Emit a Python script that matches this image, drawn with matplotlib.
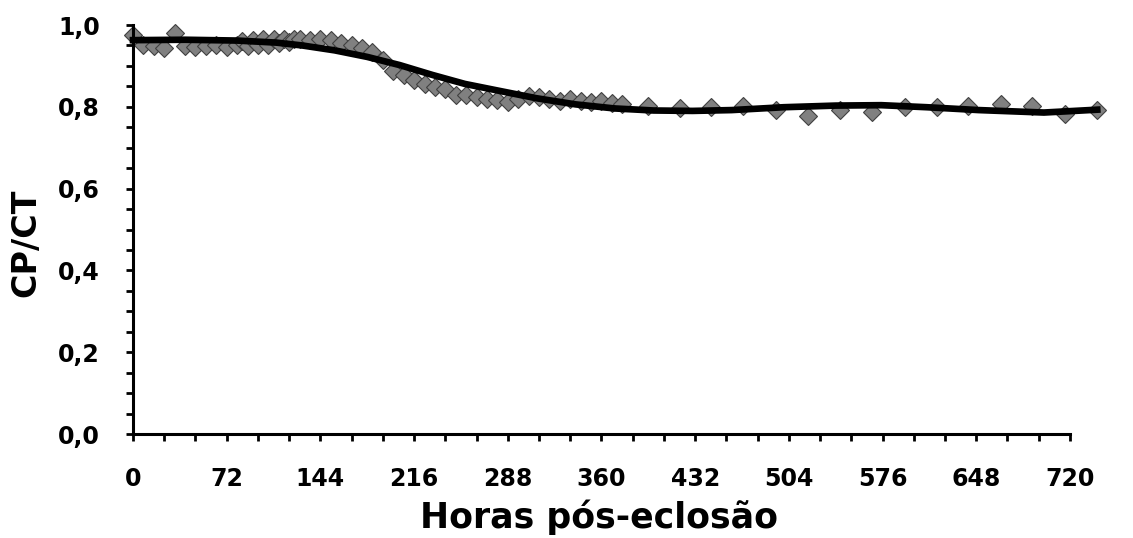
import matplotlib
matplotlib.use("Agg")
import matplotlib.pyplot as plt
from matplotlib.ticker import MultipleLocator, FuncFormatter

# observed CP/CT ratio (hours after hatching)
hours = [0, 8, 16, 24, 32, 40, 48, 56, 64, 72, 80, 84, 88, 92, 96, 100, 104,
         108, 112, 116, 120, 124, 128, 136, 144, 152, 160, 168, 176, 184, 192,
         200, 208, 216, 224, 232, 240, 248, 256, 264, 272, 280, 288, 296, 304,
         312, 320, 328, 336, 344, 352, 360, 368, 376,
         396, 420, 444, 469, 494, 519, 543, 568, 593, 618, 642, 667, 691, 716, 741]
ratio = [0.975, 0.950, 0.948, 0.945, 0.980, 0.948, 0.947, 0.948, 0.950, 0.947,
         0.950, 0.962, 0.948, 0.964, 0.950, 0.965, 0.952, 0.966, 0.955, 0.967,
         0.958, 0.967, 0.967, 0.963, 0.967, 0.963, 0.957, 0.951, 0.945, 0.935,
         0.915, 0.887, 0.877, 0.866, 0.857, 0.849, 0.843, 0.830, 0.829, 0.825,
         0.818, 0.816, 0.812, 0.818, 0.826, 0.824, 0.820, 0.815, 0.818, 0.815,
         0.811, 0.815, 0.809, 0.808,
         0.803, 0.797, 0.800, 0.803, 0.791, 0.778, 0.792, 0.788, 0.800, 0.800,
         0.802, 0.806, 0.801, 0.783, 0.792]

# fitted curve
fit_h = [0, 40, 80, 110, 130, 155, 180, 205, 230, 255, 280, 310, 340, 370,
         400, 430, 460, 500, 540, 575, 610, 650, 700, 741]
fit_v = [0.963, 0.964, 0.962, 0.957, 0.950, 0.938, 0.922, 0.902, 0.878, 0.856,
         0.840, 0.821, 0.806, 0.796, 0.791, 0.790, 0.792, 0.799, 0.803, 0.804,
         0.799, 0.792, 0.786, 0.793]

plt.rcParams["font.family"] = ["DejaVu Sans"]

fig = plt.figure(figsize=(11.33, 5.38), dpi=100)
ax = fig.add_axes([0.1174, 0.1933, 0.8614, 0.7602])

ax.plot(hours, ratio, "D", ms=9.5, color="#808080", mec="#404040", mew=0.8,
        clip_on=False, zorder=2)
ax.plot(fit_h, fit_v, "-", color="black", lw=4.8, clip_on=False, zorder=3)

ax.set_xlim(0, 750)
ax.set_ylim(0, 1.0)
ax.set_xticks(range(0, 721, 72))
ax.set_xticks(range(0, 721, 24), minor=True)
ax.yaxis.set_major_locator(MultipleLocator(0.2))
ax.yaxis.set_minor_locator(MultipleLocator(0.05))
ax.yaxis.set_major_formatter(FuncFormatter(lambda v, p: f"{v:.1f}".replace(".", ",")))

for s in ["top", "right"]:
    ax.spines[s].set_visible(False)
ax.spines["left"].set_linewidth(2.2)
ax.spines["bottom"].set_linewidth(2.2)
ax.spines["bottom"].set_bounds(0, 720)
ax.spines["left"].set_bounds(0, 1.0)

ax.tick_params(which="both", direction="out", length=5, width=2, color="black")
ax.tick_params(which="major", labelsize=17, pad=19)
for lab in ax.get_xticklabels() + ax.get_yticklabels():
    lab.set_fontweight("bold")

ax.set_xlabel("Horas pós-eclosão", fontsize=25, fontweight="bold")
ax.xaxis.set_label_coords(358 / 750, -0.16)
ax.set_ylabel("CP/CT", fontsize=24, fontweight="bold")
ax.yaxis.set_label_coords(-0.093, 0.467)

fig.savefig("out.png", dpi=100)
